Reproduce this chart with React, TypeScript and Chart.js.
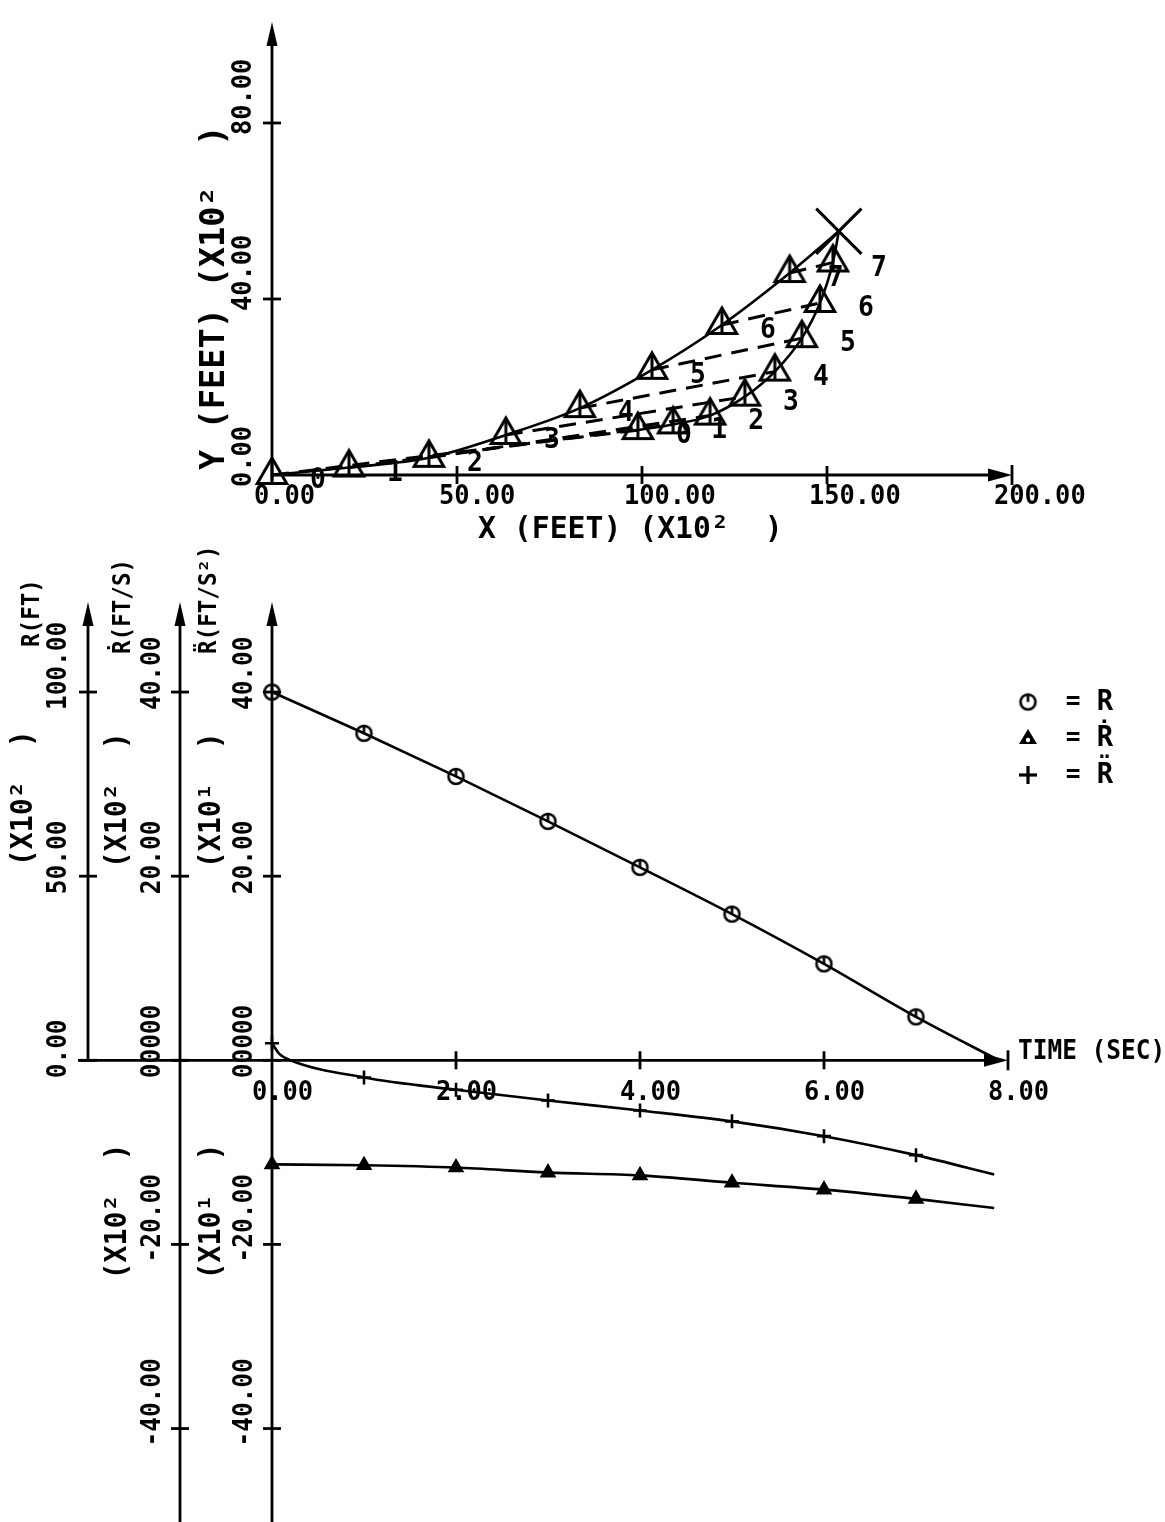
import React, { useEffect, useRef } from 'react';
import { Chart, registerables } from 'chart.js';
Chart.register(...registerables);

const W = 1165;
const H = 1522;
const FONT = '"DejaVu Sans Mono", monospace';

// ---------- top chart: trajectories (X10^2 ft) ----------
const pursuerX = [0, 20.8, 42.4, 63.2, 83.2, 102.7, 121.6, 139.9];
const pursuerY = [0, 1.7, 3.9, 9.1, 15.2, 23.9, 34.1, 45.9];
const targetX = [98.9, 108.4, 118.4, 127.8, 135.9, 143.2, 148.1, 151.6];
const targetY = [10.2, 11.5, 13.5, 17.8, 23.5, 31.1, 39.1, 48.3];
const interceptX = 153.2;
const interceptY = 55.4;
const pointLabels = ['0', '1', '2', '3', '4', '5', '6', '7'];
const topXTicks = [0, 50, 100, 150, 200];
const topXTickLabels = ['0.00', '50.00', '100.00', '150.00', '200.00'];
const topYTicks = [0, 40, 80];
const topYTickLabels = ['0.00', '40.00', '80.00'];
const topXTitle = 'X (FEET) (X10\u00B2  )';
const topYTitle = 'Y (FEET) (X10\u00B2  )';

// ---------- bottom chart: range, range rate, range accel vs time ----------
const rangeTime = [0, 1, 2, 3, 4, 5, 6, 7, 7.9];
const rangeR = [100, 88.8, 77.1, 64.9, 52.4, 39.7, 26.2, 11.8, 0];
const rateTime = [0, 1, 2, 3, 4, 5, 6, 7, 7.85];
const rangeRate = [-11.3, -11.4, -11.65, -12.2, -12.5, -13.3, -14.05, -15.05, -16.05];
const accelTime = [0, 0.08, 0.2, 1, 2, 3, 4, 5, 6, 7, 7.85];
const rangeAccel = [1.86, 0.7, 0.0, -1.86, -3.2, -4.37, -5.45, -6.63, -8.24, -10.3, -12.4];
const timeTicks = [2, 4, 6, 8];
const timeTickLabels = ['0.00', '2.00', '4.00', '6.00', '8.00'];
const timeLabelValues = [0, 2, 4, 6, 8];
const rTicks = [0, 50, 100];
const rTickLabels = ['0.00', '50.00', '100.00'];
const vTicks = [-40, -20, 0, 20, 40];
const vTickLabels = ['-40.00', '-20.00', '00000', '20.00', '40.00'];
const aTickLabels = ['-40.00', '-20.00', '00000', '20.00', '40.00'];
const timeTitle = 'TIME (SEC)';
const rTitle = 'R(FT)';
const vTitle = 'R\u0307(FT/S)';
const aTitle = 'R\u0308(FT/S\u00B2)';
const rScaleLabel = '(X10\u00B2  )';
const vScaleLabel = '(X10\u00B2  )';
const aScaleLabel = '(X10\u00B9  )';
const legendNames = ['R', 'R\u0307', 'R\u0308'];

function txt(
  ctx: CanvasRenderingContext2D,
  s: string,
  x: number,
  y: number,
  size: number,
  o: { rot?: boolean; align?: CanvasTextAlign; base?: CanvasTextBaseline; sx?: number } = {}
) {
  ctx.save();
  ctx.translate(x, y);
  if (o.rot) ctx.rotate(-Math.PI / 2);
  ctx.scale(o.sx ?? 0.94, 1);
  ctx.font = `bold ${size}px ${FONT}`;
  ctx.fillStyle = '#000';
  ctx.textAlign = o.align ?? 'left';
  ctx.textBaseline = o.base ?? 'middle';
  ctx.fillText(s, 0, 0);
  ctx.restore();
}

function seg(ctx: CanvasRenderingContext2D, x1: number, y1: number, x2: number, y2: number, w = 2.8) {
  ctx.save();
  ctx.strokeStyle = '#000';
  ctx.lineWidth = w;
  ctx.beginPath();
  ctx.moveTo(x1, y1);
  ctx.lineTo(x2, y2);
  ctx.stroke();
  ctx.restore();
}

function arrowUp(ctx: CanvasRenderingContext2D, x: number, yTip: number) {
  ctx.save();
  ctx.fillStyle = '#000';
  ctx.beginPath();
  ctx.moveTo(x, yTip);
  ctx.lineTo(x - 5.5, yTip + 24);
  ctx.lineTo(x + 5.5, yTip + 24);
  ctx.closePath();
  ctx.fill();
  ctx.restore();
}

function arrowRight(ctx: CanvasRenderingContext2D, xTip: number, y: number) {
  ctx.save();
  ctx.fillStyle = '#000';
  ctx.beginPath();
  ctx.moveTo(xTip, y);
  ctx.lineTo(xTip - 24, y - 6.5);
  ctx.lineTo(xTip - 24, y + 6.5);
  ctx.closePath();
  ctx.fill();
  ctx.restore();
  seg(ctx, xTip, y - 10, xTip, y + 10, 2.8);
}

function makeTri(r: number, lw: number) {
  const s = Math.ceil(2 * r + 2 * lw + 2);
  const cv = document.createElement('canvas');
  cv.width = s;
  cv.height = s;
  const c = s / 2;
  const g = cv.getContext('2d')!;
  g.strokeStyle = '#000';
  g.lineWidth = lw;
  g.lineJoin = 'miter';
  g.beginPath();
  g.moveTo(c, c - r);
  g.lineTo(c - r * 0.866, c + r / 2);
  g.lineTo(c + r * 0.866, c + r / 2);
  g.closePath();
  g.stroke();
  g.beginPath();
  g.moveTo(c, c - r);
  g.lineTo(c, c + r / 2);
  g.stroke();
  return cv;
}

function makeCirc(r: number, lw: number) {
  const s = Math.ceil(2 * r + 2 * lw + 2);
  const cv = document.createElement('canvas');
  cv.width = s;
  cv.height = s;
  const c = s / 2;
  const g = cv.getContext('2d')!;
  g.strokeStyle = '#000';
  g.lineWidth = lw;
  g.beginPath();
  g.arc(c, c, r, 0, Math.PI * 2);
  g.stroke();
  g.beginPath();
  g.moveTo(c, c - r);
  g.lineTo(c, c);
  g.stroke();
  return cv;
}

function topConfig(): any {
  const P = pursuerX.map((x, i) => ({ x, y: pursuerY[i] }));
  const T = targetX.map((x, i) => ({ x, y: targetY[i] }));
  const X = { x: interceptX, y: interceptY };
  const tri = makeTri(17, 3);
  const base = { borderColor: '#000', backgroundColor: '#000', pointRadius: 0, clip: false as any };
  const datasets: any[] = [
    { ...base, data: [...P, X], borderWidth: 2.6, cubicInterpolationMode: 'monotone' },
    { ...base, data: [...T, X], borderWidth: 2.6, cubicInterpolationMode: 'monotone' },
    ...P.map((p, i) => ({ ...base, data: [p, T[i]], borderWidth: 3, borderDash: [17, 10] })),
    { ...base, data: P, showLine: false, pointStyle: tri, pointRadius: 17 },
    { ...base, data: T, showLine: false, pointStyle: tri, pointRadius: 17 },
    { ...base, data: [X], showLine: false, pointStyle: 'crossRot', pointRadius: 32, pointBorderWidth: 3 },
  ];
  const plugin = {
    id: 'topAxes',
    afterDraw(chart: any) {
      const ctx = chart.ctx as CanvasRenderingContext2D;
      const xs = chart.scales.x;
      const ys = chart.scales.y;
      const x0 = xs.getPixelForValue(0);
      const y0 = ys.getPixelForValue(0);
      const yTop = ys.getPixelForValue(100) - 13;
      const xEnd = xs.getPixelForValue(200);
      seg(ctx, x0, y0 + 6, x0, yTop + 10);
      arrowUp(ctx, x0, yTop);
      seg(ctx, x0, y0, xEnd - 10, y0);
      arrowRight(ctx, xEnd, y0);
      topXTicks.forEach((v) => {
        if (v > 0 && v < 200) {
          const px = xs.getPixelForValue(v);
          seg(ctx, px, y0 - 9, px, y0 + 9);
        }
      });
      topYTicks.forEach((v) => {
        if (v > 0) {
          const py = ys.getPixelForValue(v);
          seg(ctx, x0 - 9, py, x0 + 9, py);
        }
      });
      topXTicks.forEach((v, i) => {
        txt(ctx, topXTickLabels[i], xs.getPixelForValue(v) - 18, y0 + 22, 27);
      });
      topYTicks.forEach((v, i) => {
        txt(ctx, topYTickLabels[i], x0 - 28, ys.getPixelForValue(v) + 12, 27, { rot: true });
      });
      txt(ctx, topXTitle, x0 + 206, y0 + 55, 31, { sx: 0.96 });
      txt(ctx, topYTitle, x0 - 57, y0 - 5, 33, { rot: true, sx: 1.02 });
      P.forEach((p, i) => {
        txt(ctx, pointLabels[i], xs.getPixelForValue(p.x) + 46, ys.getPixelForValue(p.y) + 6, 28, { align: 'center' });
      });
      T.forEach((p, i) => {
        txt(ctx, pointLabels[i], xs.getPixelForValue(p.x) + 46, ys.getPixelForValue(p.y) + 6, 28, { align: 'center' });
      });
    },
  };
  return {
    type: 'line',
    data: { datasets },
    options: {
      responsive: false,
      animation: false,
      devicePixelRatio: 1,
      events: [],
      layout: { padding: { left: 272, right: W - 1012, top: 15, bottom: H - 475 } },
      plugins: { legend: { display: false }, tooltip: { enabled: false }, colors: { enabled: false } },
      scales: {
        x: { type: 'linear', min: 0, max: 200, display: false },
        y: { type: 'linear', min: 0, max: 100, display: false },
      },
    },
    plugins: [plugin],
  };
}

function bottomConfig(): any {
  const circ = makeCirc(7.5, 2.6);
  const base = { borderColor: '#000', backgroundColor: '#000', clip: false as any, borderWidth: 2.6 };
  const datasets: any[] = [
    {
      ...base,
      yAxisID: 'yR',
      data: rangeTime.map((t, i) => ({ x: t, y: rangeR[i] })),
      pointStyle: circ,
      pointRadius: (c: any) => (Number.isInteger(rangeTime[c.dataIndex]) ? 8 : 0),
      cubicInterpolationMode: 'monotone',
    },
    {
      ...base,
      yAxisID: 'yV',
      data: rateTime.map((t, i) => ({ x: t, y: rangeRate[i] })),
      pointStyle: 'triangle',
      pointRadius: (c: any) => (Number.isInteger(rateTime[c.dataIndex]) ? 7 : 0),
      pointBackgroundColor: '#000',
      cubicInterpolationMode: 'monotone',
    },
    {
      ...base,
      yAxisID: 'yA',
      data: accelTime.map((t, i) => ({ x: t, y: rangeAccel[i] })),
      pointStyle: 'cross',
      pointRadius: (c: any) => (Number.isInteger(accelTime[c.dataIndex]) ? 7 : 0),
      pointBorderWidth: 2.6,
      cubicInterpolationMode: 'monotone',
    },
  ];
  const plugin = {
    id: 'bottomAxes',
    afterDraw(chart: any) {
      const ctx = chart.ctx as CanvasRenderingContext2D;
      const xs = chart.scales.x;
      const yR = chart.scales.yR;
      const yV = chart.scales.yV;
      const yA = chart.scales.yA;
      const y0 = yR.getPixelForValue(0);
      const xR = xs.getPixelForValue(-2);
      const xV = xs.getPixelForValue(-1);
      const xA = xs.getPixelForValue(0);
      const top = chart.chartArea.top + 2;
      const xEnd = xs.getPixelForValue(8);
      // axes
      seg(ctx, xR - 10, y0, xEnd - 10, y0);
      arrowRight(ctx, xEnd, y0);
      seg(ctx, xR, y0, xR, top + 10);
      arrowUp(ctx, xR, top);
      seg(ctx, xV, H, xV, top + 10);
      arrowUp(ctx, xV, top);
      seg(ctx, xA, H, xA, top + 10);
      arrowUp(ctx, xA, top);
      timeTicks.forEach((v) => {
        if (v < 8) {
          const px = xs.getPixelForValue(v);
          seg(ctx, px, y0 - 9, px, y0 + 9);
        }
      });
      rTicks.forEach((v) => {
        const py = yR.getPixelForValue(v);
        seg(ctx, xR - 9, py, xR + 9, py);
      });
      vTicks.forEach((v) => {
        seg(ctx, xV - 9, yV.getPixelForValue(v), xV + 9, yV.getPixelForValue(v));
        seg(ctx, xA - 9, yA.getPixelForValue(v), xA + 9, yA.getPixelForValue(v));
      });
      // tick labels
      timeLabelValues.forEach((v, i) => {
        txt(ctx, timeTickLabels[i], xs.getPixelForValue(v) - 20, y0 + 33, 27);
      });
      rTicks.forEach((v, i) => {
        txt(ctx, rTickLabels[i], xR - 29, yR.getPixelForValue(v) + 18, 26, { rot: true });
      });
      vTicks.forEach((v, i) => {
        txt(ctx, vTickLabels[i], xV - 27, yV.getPixelForValue(v) + 18, 26, { rot: true });
        txt(ctx, aTickLabels[i], xA - 27, yA.getPixelForValue(v) + 18, 26, { rot: true });
      });
      // titles
      txt(ctx, timeTitle, xEnd + 10, y0 - 8, 26);
      txt(ctx, rTitle, xR - 55, top + 45, 24, { rot: true });
      txt(ctx, vTitle, xV - 56, top + 52, 24, { rot: true });
      txt(ctx, aTitle, xA - 62, top + 52, 24, { rot: true });
      txt(ctx, rScaleLabel, xR - 64, yR.getPixelForValue(50) - 10, 30, { rot: true });
      txt(ctx, vScaleLabel, xV - 62, yV.getPixelForValue(20) - 8, 30, { rot: true });
      txt(ctx, aScaleLabel, xA - 60, yA.getPixelForValue(20) - 8, 30, { rot: true });
      txt(ctx, vScaleLabel, xV - 62, yV.getPixelForValue(-20) + 35, 30, { rot: true });
      txt(ctx, aScaleLabel, xA - 60, yA.getPixelForValue(-20) + 35, 30, { rot: true });
      // legend
      const lx = 1028;
      const rows = [702, 738, 775];
      ctx.drawImage(circ, lx - circ.width / 2, rows[0] - circ.height / 2);
      ctx.save();
      ctx.fillStyle = '#000';
      ctx.beginPath();
      ctx.moveTo(lx, rows[1] - 9);
      ctx.lineTo(lx - 9, rows[1] + 6);
      ctx.lineTo(lx + 9, rows[1] + 6);
      ctx.closePath();
      ctx.fill();
      ctx.fillStyle = '#fff';
      ctx.beginPath();
      ctx.arc(lx, rows[1] + 2, 2.2, 0, Math.PI * 2);
      ctx.fill();
      ctx.restore();
      seg(ctx, lx - 9, rows[2], lx + 9, rows[2], 3.2);
      seg(ctx, lx, rows[2] - 9, lx, rows[2] + 9, 3.2);
      rows.forEach((ry, i) => {
        txt(ctx, '=', lx + 45, ry, 26, { align: 'center' });
        txt(ctx, legendNames[i], lx + 77, ry, 29, { align: 'center' });
      });
    },
  };
  return {
    type: 'line',
    data: { datasets },
    options: {
      responsive: false,
      animation: false,
      devicePixelRatio: 1,
      events: [],
      layout: { padding: { left: 272, right: W - 1008, top: 600, bottom: 1.3 } },
      plugins: { legend: { display: false }, tooltip: { enabled: false }, colors: { enabled: false } },
      scales: {
        x: { type: 'linear', min: 0, max: 8, display: false },
        yR: { type: 'linear', min: -122.5, max: 125, display: false },
        yV: { type: 'linear', min: -49, max: 50, display: false },
        yA: { type: 'linear', min: -49, max: 50, display: false },
      },
    },
    plugins: [plugin],
  };
}

export default function App() {
  const c1 = useRef<HTMLCanvasElement>(null);
  const c2 = useRef<HTMLCanvasElement>(null);
  useEffect(() => {
    document.body.style.margin = '0';
    const ch1 = new Chart(c1.current!, topConfig());
    const ch2 = new Chart(c2.current!, bottomConfig());
    return () => {
      ch1.destroy();
      ch2.destroy();
    };
  }, []);
  return (
    <div style={{ position: 'relative', width: W, height: H, background: '#fff', overflow: 'hidden' }}>
      <canvas ref={c1} width={W} height={H} style={{ position: 'absolute', left: 0, top: 0 }} />
      <canvas ref={c2} width={W} height={H} style={{ position: 'absolute', left: 0, top: 0 }} />
    </div>
  );
}
